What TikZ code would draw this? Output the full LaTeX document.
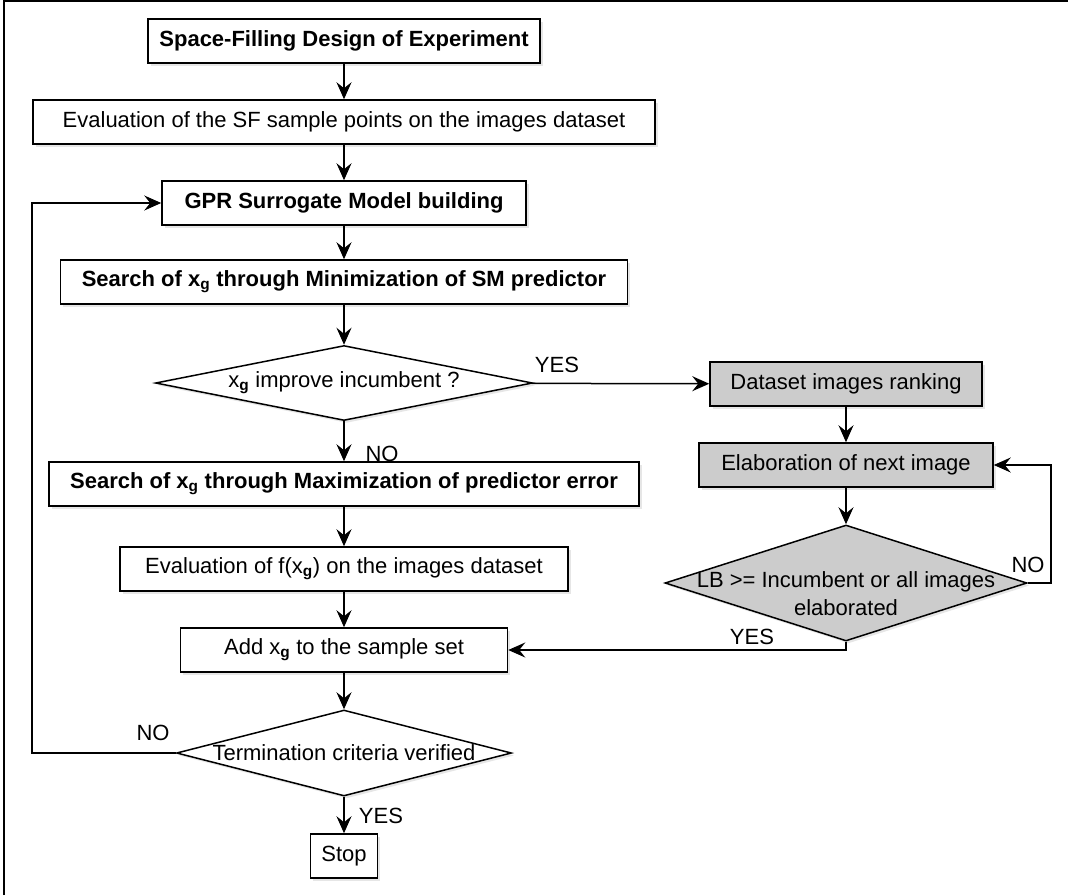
\documentclass[tikz,border=0pt]{standalone}
\usepackage{fontspec}
\setmainfont{Liberation Sans}
\usepackage{tikz}
\usetikzlibrary{arrows.meta,shapes.geometric,shadows}
\newcommand{\chartfont}{\fontsize{22}{28}\selectfont}

\begin{document}
\begin{tikzpicture}[x=1pt,y=-1pt,
			every node/.style={font=\chartfont},
			box/.style={draw,line width=1.5pt,fill=white,inner sep=0pt,minimum height=44pt,
				drop shadow={shadow xshift=2.5pt,shadow yshift=-2.5pt,opacity=.2}},
			bold/.style={font=\chartfont\bfseries},
			greybox/.style={fill=gray!40},
			decision/.style={diamond,draw,line width=1.5pt,fill=white,inner sep=0pt,
				drop shadow={shadow xshift=2.5pt,shadow yshift=-2.5pt,opacity=.2}},
			flow/.style={line width=1.5pt,-{Stealth[length=17pt,width=15pt,inset=6pt]}}]
			\useasboundingbox (0,0) rectangle (1068,895);
			\draw [line width=1.5pt] (4,895) -- (4,0.75) -- (1068,0.75);
			\node [box,bold,minimum width=392pt] (sfdoe) at (344,41) {Space-Filling Design of Experiment};
			\node [box,minimum width=622pt] (evalsf) at (344,122) {Evaluation of the SF sample points on the images dataset};
			\node [box,bold,minimum width=364pt] (gpr) at (344,203) {GPR Surrogate Model building};
			\node [box,bold,minimum width=567pt] (minsm) at (344,282) {Search of x\textsubscript{g} through Minimization of SM predictor};
			\node [decision,minimum width=377pt,minimum height=75pt,
				label=center:{x\textsubscript{\bfseries g} improve incumbent ?}] (improve) at (344,383) {};
			\node [box,greybox,minimum width=272pt] (ranking) at (846,384) {Dataset images ranking};
			\node [box,greybox,minimum width=294pt] (nextimg) at (846,465) {Elaboration of next image};
			\node [decision,greybox,minimum width=362pt,minimum height=116pt] (lbtest) at (846,583) {};
			\node [align=center,inner sep=0pt] (lbtext) at (846,594) {LB >= Incumbent or all images\\elaborated};
			\node [box,bold,minimum width=590pt] (maxerr) at (344,484) {Search of x\textsubscript{g} through Maximization of predictor error};
			\node [box,minimum width=448pt] (evalf) at (344,569) {Evaluation of f(x\textsubscript{\bfseries g}) on the images dataset};
			\node [box,minimum width=327pt] (addx) at (344,650) {Add x\textsubscript{\bfseries g} to the sample set};
			\node [decision,minimum width=335pt,minimum height=86pt,
				label=center:{Termination criteria verified}] (term) at (344,753) {};
			\node [box,minimum width=67pt] (stop) at (344,856) {Stop};
			\draw [flow] (sfdoe) -- (evalsf);
			\draw [flow] (evalsf) -- (gpr);
			\draw [flow] (gpr) -- (minsm);
			\draw [flow] (minsm) -- (improve);
			\draw [flow] (improve) -- (maxerr);
			\draw [flow] (improve) -- (ranking);
			\draw [flow] (ranking) -- (nextimg);
			\draw [flow] (nextimg) -- (lbtest);
			\draw [flow] (lbtest.east) -- ++(23,0) |- (nextimg.east);
			\draw [flow] (lbtest.south) |- (addx.east);
			\draw [flow] (maxerr) -- (evalf);
			\draw [flow] (evalf) -- (addx);
			\draw [flow] (addx) -- (term);
			\draw [flow] (term.west) -- ++(-144,0) |- (gpr.west);
			\draw [flow] (term) -- (stop);
			\node (yes1) at (557,365) {YES};
			\node (no1) at (382,454) {NO};
			\node (no2) at (1028,565) {NO};
			\node (yes2) at (752,637) {YES};
			\node (no3) at (153,733) {NO};
			\node (yes3) at (381,816) {YES};
\end{tikzpicture}
\end{document}
